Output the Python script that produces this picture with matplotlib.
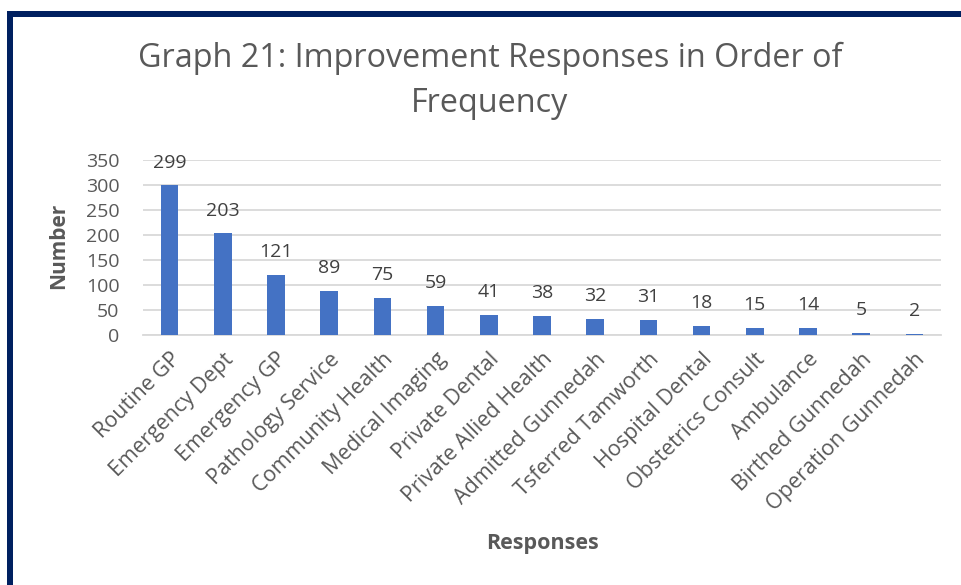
import matplotlib
matplotlib.use("Agg")
import matplotlib.pyplot as plt
from matplotlib.patches import Rectangle

categories = ["Routine GP", "Emergency Dept", "Emergency GP", "Pathology Service",
              "Community Health", "Medical Imaging", "Private Dental",
              "Private Allied Health", "Admitted Gunnedah", "Tsferred Tamworth",
              "Hospital Dental", "Obstetrics Consult", "Ambulance",
              "Birthed Gunnedah", "Operation Gunnedah"]
values = [299, 203, 121, 89, 75, 59, 41, 38, 32, 31, 18, 15, 14, 5, 2]
yticks = [0, 50, 100, 150, 200, 250, 300, 350]

plt.rcParams['font.family'] = ['Open Sans', 'DejaVu Sans']
W, H = 961, 585
fig = plt.figure(figsize=(W/100, H/100), dpi=100)
fig.patch.set_facecolor('white')

navy = '#002060'
fig.patches.append(Rectangle((7/W, 0), 6/W, 1 - 11/H, transform=fig.transFigure,
                             facecolor=navy, edgecolor='none'))
fig.patches.append(Rectangle((7/W, 1 - 17/H), 1 - 7/W, 6/H, transform=fig.transFigure,
                             facecolor=navy, edgecolor='none'))

ax = fig.add_axes([143/W, 1 - 335/H, (941-143)/W, 175/H])
gray = '#595959'
x = list(range(len(categories)))
ax.bar(x, values, width=0.33, color='#4472C4', zorder=3)
ax.set_xlim(-0.5, len(categories) - 0.5)
ax.set_ylim(0, 350)
ax.set_yticks(yticks)
ax.set_yticklabels([str(v) for v in yticks], fontsize=14, color=gray)
ax.set_xticks(x)
ax.set_xticklabels(categories, rotation=45, ha='right', rotation_mode='anchor',
                   fontsize=15.5, color=gray)
ax.tick_params(axis='y', length=0, pad=17)
ax.tick_params(axis='x', length=0, pad=10)
ax.grid(axis='y', color='#D9D9D9', linewidth=1.3, zorder=0)
for s in ['top', 'right', 'left']:
    ax.spines[s].set_visible(False)
ax.spines['bottom'].set_color('#D9D9D9')
ax.spines['bottom'].set_linewidth(1.3)

for xi, v in zip(x, values):
    ax.annotate(str(v), (xi, v), xytext=(0, 10), textcoords='offset points',
                ha='center', va='bottom', fontsize=14, color='#404040')

fig.text(59/W, 1 - 246/H, 'Number', fontsize=15, fontweight='bold', color=gray,
         ha='center', va='center', rotation=90)
fig.text(543/W, 1 - 543/H, 'Responses', fontsize=15.5, fontweight='bold', color=gray,
         ha='center', va='center')
fig.text(490/W, 1 - 58/H, 'Graph 21: Improvement Responses in Order of', fontsize=23.3,
         color=gray, ha='center', va='center')
fig.text(490/W, 1 - 103/H, 'Frequency', fontsize=23.3, color=gray, ha='center', va='center')

fig.savefig('out.png', dpi=100)
